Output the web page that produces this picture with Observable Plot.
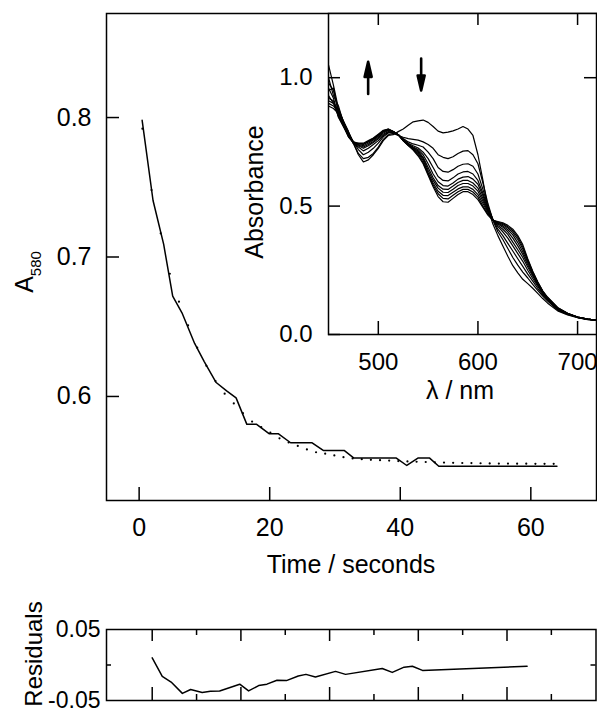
<!DOCTYPE html>
<html>
<head>
<meta charset="utf-8">
<script src="https://cdn.jsdelivr.net/npm/d3@7"></script>
<script src="https://cdn.jsdelivr.net/npm/@observablehq/plot@0.6"></script>
<style>
  html, body { margin: 0; padding: 0; background: white; }
  #wrap { position: relative; width: 597px; height: 716px; overflow: hidden; }
</style>
</head>
<body>
<div id="wrap"></div>
<script>
// ---------- Main kinetic trace (A580 vs time) ----------
const timeObs = [0.46, 2.13, 3.76, 5.14, 6.56, 8.5, 9.97, 11.8, 13.4, 14.85, 16.5, 18.0, 19.9, 21.3, 23.2, 26.5, 28.2, 31.4, 32.9, 39.4, 41.0, 42.7, 44.5, 45.9, 64.0];
const absObs  = [0.798, 0.7405, 0.709, 0.672, 0.660, 0.638, 0.625, 0.610, 0.604, 0.599, 0.580, 0.580, 0.5733, 0.5733, 0.5668, 0.5668, 0.5613, 0.5613, 0.5558, 0.5558, 0.5505, 0.5558, 0.5558, 0.550, 0.550];

const timeFit = [0.5, 1.9, 3.3, 4.7, 6.1, 7.5, 8.9, 10.3, 11.7, 13.1, 14.5, 15.9, 17.3, 18.7, 20.1, 21.5, 22.9, 24.3, 25.7, 27.1, 28.5, 29.9, 31.3, 32.7, 34.1, 35.5, 36.9, 38.3, 39.7, 41.1, 42.5, 43.9, 45.3, 46.7, 48.1, 49.5, 50.9, 52.3, 53.7, 55.1, 56.5, 57.9, 59.3, 60.7, 62.1, 63.5];
const absFit  = [0.792, 0.748, 0.717, 0.688, 0.668, 0.651, 0.635, 0.622, 0.611, 0.602, 0.595, 0.588, 0.582, 0.578, 0.574, 0.570, 0.567, 0.5645, 0.562, 0.560, 0.559, 0.5577, 0.5565, 0.5556, 0.5550, 0.5546, 0.5543, 0.5540, 0.5537, 0.5534, 0.5532, 0.5530, 0.5528, 0.5526, 0.5524, 0.5523, 0.5522, 0.5521, 0.5520, 0.5519, 0.5519, 0.5518, 0.5518, 0.5517, 0.5517, 0.5517];

const timeTicks = [0, 20, 40, 60];
const absTicks = [0.6, 0.7, 0.8];

// ---------- Residuals ----------
const resTime = [0, 1.7, 3.2, 5.1, 6.5, 8.45, 9.85, 11.4, 14.8, 16.3, 18.0, 19.4, 21.1, 22.7, 24.7, 26.0, 27.6, 31.0, 32.7, 38.9, 40.6, 42.6, 44.0, 45.7, 63.4];
const resVal  = [0.010, -0.016, -0.024, -0.040, -0.0345, -0.0386, -0.037, -0.0365, -0.027, -0.0365, -0.029, -0.027, -0.0215, -0.022, -0.0155, -0.0132, -0.017, -0.009, -0.0132, -0.0049, -0.0104, -0.003, -0.0017, -0.0076, -0.0017];
const resMajorTicks = [0, 15, 30, 45, 60];
const resMinorTicks = [7.5, 22.5, 37.5, 52.5, 67.5];
const resLabelTicks = [-0.05, 0.05];
const resMidTicks = [0];

// ---------- Inset spectra ----------
const wavelength = [450,455,460,465,470,475,480,485,490,495,500,505,510,515,520,525,530,535,540,545,550,555,560,565,570,575,580,585,590,595,600,605,610,615,620,625,630,635,640,645,650,655,660,665,670,680,690,700,710,720];
const spec1  = [1.05,0.97,0.88,0.83,0.79,0.745,0.70,0.672,0.68,0.70,0.725,0.755,0.775,0.778,0.79, 0.80,0.815,0.828,0.832,0.835,0.826,0.81,0.792,0.785, 0.788,0.793,0.80,0.81, 0.80,0.775,0.70,0.60,0.49,0.43, 0.385,0.345,0.305,0.268,0.24,0.215,0.198,0.18,0.16,0.14,0.122, 0.092,0.076,0.066,0.058,0.055];
const spec2  = [0.98,0.95,0.87,0.83,0.79,0.745,0.705,0.685,0.69,0.705,0.73,0.76,0.778,0.783,0.775, 0.768,0.763,0.76,0.757,0.75,0.74,0.725,0.70,0.69, 0.685,0.692,0.705,0.714, 0.716,0.70,0.665,0.59,0.51,0.445, 0.40,0.37,0.335,0.30,0.27,0.243,0.22,0.195,0.172,0.15,0.13, 0.095,0.078,0.066,0.059,0.055];
const spec3  = [1.00,0.93,0.89,0.825,0.785,0.75,0.72,0.70,0.71,0.725,0.745,0.77,0.785,0.785,0.778, 0.763,0.75,0.742,0.737,0.73,0.71,0.685,0.65,0.635, 0.632,0.642,0.655,0.663, 0.665,0.655,0.625,0.565,0.50,0.448, 0.41,0.385,0.355,0.325,0.295,0.265,0.235,0.208,0.18,0.155,0.133, 0.097,0.079,0.067,0.059,0.055];
const spec4  = [0.95,0.96,0.86,0.82,0.785,0.745,0.73,0.715,0.725,0.74,0.755,0.775,0.788,0.787,0.778, 0.76,0.745,0.735,0.726,0.71,0.685,0.65,0.615,0.60, 0.598,0.61,0.625,0.633, 0.635,0.625,0.60,0.55,0.495,0.448, 0.42,0.40,0.375,0.345,0.315,0.285,0.25,0.218,0.188,0.16,0.136, 0.099,0.08,0.067,0.06,0.055];
const spec5  = [0.93,0.90,0.875,0.83,0.78,0.75,0.735,0.725,0.735,0.748,0.762,0.78,0.79,0.788,0.778, 0.758,0.742,0.73,0.72,0.70,0.665,0.625,0.595,0.58, 0.578,0.59,0.605,0.613, 0.615,0.605,0.585,0.54,0.49,0.447, 0.425,0.41,0.39,0.36,0.33,0.30,0.263,0.227,0.193,0.163,0.138, 0.10,0.081,0.067,0.06,0.055];
const spec6  = [0.96,0.92,0.85,0.815,0.78,0.745,0.738,0.73,0.74,0.752,0.767,0.785,0.795,0.79,0.778, 0.757,0.74,0.727,0.715,0.69,0.65,0.61,0.58,0.566, 0.565,0.578,0.592,0.60, 0.60,0.59,0.57,0.53,0.485,0.446, 0.43,0.418,0.40,0.375,0.345,0.312,0.272,0.233,0.197,0.165,0.14, 0.101,0.081,0.068,0.06,0.055];
const spec7  = [0.90,0.89,0.865,0.82,0.775,0.75,0.74,0.735,0.745,0.757,0.772,0.79,0.797,0.79,0.778, 0.756,0.739,0.725,0.71,0.685,0.64,0.60,0.57,0.554, 0.553,0.566,0.58,0.588, 0.588,0.578,0.558,0.52,0.48,0.446, 0.433,0.423,0.408,0.388,0.358,0.322,0.28,0.238,0.20,0.167,0.141, 0.102,0.082,0.068,0.06,0.055];
const spec8  = [0.92,0.91,0.845,0.81,0.775,0.745,0.742,0.74,0.75,0.76,0.776,0.79,0.798,0.79,0.778, 0.755,0.738,0.722,0.705,0.678,0.63,0.59,0.558,0.542, 0.541,0.554,0.567,0.575, 0.575,0.565,0.545,0.51,0.475,0.445, 0.436,0.428,0.415,0.397,0.37,0.333,0.287,0.242,0.202,0.168,0.142, 0.103,0.082,0.068,0.06,0.055];
const spec9  = [0.89,0.88,0.86,0.815,0.77,0.75,0.744,0.742,0.752,0.763,0.778,0.793,0.80,0.79,0.778, 0.755,0.737,0.72,0.70,0.67,0.625,0.582,0.548,0.53, 0.528,0.542,0.556,0.565, 0.565,0.555,0.535,0.50,0.47,0.445, 0.438,0.432,0.42,0.404,0.378,0.342,0.29,0.244,0.203,0.168,0.143, 0.104,0.083,0.068,0.06,0.055];
const spec10 = [0.91,0.90,0.85,0.81,0.77,0.745,0.745,0.745,0.755,0.765,0.78,0.795,0.80,0.79,0.778, 0.754,0.736,0.718,0.695,0.665,0.62,0.575,0.537,0.517, 0.515,0.53,0.545,0.556, 0.556,0.545,0.525,0.495,0.465,0.445, 0.44,0.435,0.425,0.41,0.385,0.35,0.295,0.246,0.205,0.17,0.145, 0.105,0.083,0.068,0.06,0.055];
const spectra = [spec1, spec2, spec3, spec4, spec5, spec6, spec7, spec8, spec9, spec10];

const lambdaTicks = [500, 600, 700];
const insetAbsTicks = [0.0, 0.5, 1.0];
const insetRightTicks = [0.5, 1.0];

const arrowLambda = [489.8, 543];
const arrowTailAbs = [0.937, 1.075];
const arrowRotate = [0, 180];

// ---------- build tables ----------
const obsData = timeObs.map((t, i) => ({t, A: absObs[i]}));
const fitData = timeFit.map((t, i) => ({t, A: absFit[i]}));
const resData = resTime.map((t, i) => ({t, r: resVal[i]}));
const specData = spectra.flatMap((s, k) => wavelength.map((w, i) => ({w, A: s[i], k})));
const arrowData = arrowLambda.map((w, i) => ({w, A: arrowTailAbs[i], rot: arrowRotate[i]}));

const FONT = "'Liberation Sans', Arial, Helvetica, sans-serif";
const baseStyle = (fs) => ({position: "absolute", left: "0px", top: "0px", background: "transparent", fontFamily: FONT, fontSize: fs, color: "black", overflow: "visible"});

const wrap = document.getElementById("wrap");

// ---------- main plot ----------
const mX = [-5, 70.06], mY = [0.5254, 0.8746];
const mainSvg = Plot.plot({
  width: 597, height: 600,
  marginLeft: 106, marginRight: 1, marginTop: 13, marginBottom: 100,
  x: {domain: mX, axis: null}, y: {domain: mY, axis: null},
  style: baseStyle("25px"),
  marks: [
    Plot.ruleX(timeTicks, {x: d => d, y1: mY[0], y2: mY[0], insetTop: -13, stroke: "black", strokeWidth: 1.5}),
    Plot.ruleY(absTicks, {y: d => d, x1: mX[0], x2: mX[0], insetRight: -13, stroke: "black", strokeWidth: 1.5}),
    Plot.axisX(timeTicks, {tickSize: 0, tickPadding: 18, label: null, tickFormat: d => String(d)}),
    Plot.axisY(absTicks, {tickSize: 0, tickPadding: 15, label: null, tickFormat: d => d.toFixed(1)}),
    Plot.dot(fitData, {x: "t", y: "A", r: 1.1, fill: "black", stroke: null}),
    Plot.line(obsData, {x: "t", y: "A", stroke: "black", strokeWidth: 1.5}),
    Plot.frame({stroke: "black", strokeWidth: 1.5})
  ]
});
wrap.appendChild(mainSvg);
{
  const s = d3.select(mainSvg);
  const t = s.append("text").attr("transform", "translate(33,272) rotate(-90)")
    .attr("text-anchor", "middle").attr("font-size", 25).attr("fill", "black");
  t.append("tspan").text("A");
  t.append("tspan").attr("font-size", 15).attr("dy", 8).text("580");
  s.append("text").attr("x", 351).attr("y", 573).attr("text-anchor", "middle")
    .attr("font-size", 25).attr("fill", "black").text("Time / seconds");
}

// ---------- residual plot ----------
const rX = [-7.73, 75.05], rY = [-0.05, 0.05];
const resSvg = Plot.plot({
  width: 597, height: 716,
  marginLeft: 106, marginRight: 1.5, marginTop: 629, marginBottom: 16,
  x: {domain: rX, axis: null}, y: {domain: rY, axis: null},
  style: baseStyle("23px"),
  marks: [
    Plot.ruleX(resMajorTicks, {x: d => d, y1: rY[0], y2: rY[0], insetTop: -13, stroke: "black", strokeWidth: 1.5}),
    Plot.ruleX(resMinorTicks, {x: d => d, y1: rY[0], y2: rY[0], insetTop: -6, stroke: "black", strokeWidth: 1.5}),
    Plot.ruleX(resMajorTicks, {x: d => d, y1: rY[1], y2: rY[1], insetBottom: -12, stroke: "black", strokeWidth: 1.5}),
    Plot.ruleX(resMinorTicks, {x: d => d, y1: rY[1], y2: rY[1], insetBottom: -6, stroke: "black", strokeWidth: 1.5}),
    Plot.ruleY(resMidTicks, {y: d => d, x1: rX[0], x2: rX[0], insetRight: -5, stroke: "black", strokeWidth: 1.5}),
    Plot.ruleY(resMidTicks, {y: d => d, x1: rX[1], x2: rX[1], insetLeft: -5, stroke: "black", strokeWidth: 1.5}),
    Plot.axisY(resLabelTicks, {tickSize: 0, tickPadding: 6, label: null, tickFormat: d => d.toFixed(2)}),
    Plot.line(resData, {x: "t", y: "r", stroke: "black", strokeWidth: 1.5}),
    Plot.frame({stroke: "black", strokeWidth: 1.5})
  ]
});
wrap.appendChild(resSvg);
d3.select(resSvg).append("text").attr("transform", "translate(42,654) rotate(-90)")
  .attr("text-anchor", "middle").attr("font-size", 24).attr("fill", "black").text("Residuals");

// ---------- inset ----------
const iX = [450, 719], iY = [0, 1.25];
const arrowShape = {
  draw(context, l) {
    const h = 15, w = 3.5;
    context.moveTo(0, 0);
    context.lineTo(0, -l + h);
    context.moveTo(-w, -l + h);
    context.lineTo(0, -l);
    context.lineTo(w, -l + h);
    context.closePath();
  }
};
const insetSvg = Plot.plot({
  width: 597, height: 420,
  marginLeft: 328, marginRight: 1, marginTop: 13, marginBottom: 86,
  x: {domain: iX, axis: null}, y: {domain: iY, axis: null},
  style: baseStyle("24px"),
  marks: [
    Plot.frame({fill: "white", stroke: null}),
    Plot.line(specData, {x: "w", y: "A", z: "k", stroke: "black", strokeWidth: 1.2, clip: true}),
    Plot.ruleX(lambdaTicks, {x: d => d, y1: iY[0], y2: iY[0], insetTop: -13, stroke: "black", strokeWidth: 1.5}),
    Plot.ruleX(lambdaTicks, {x: d => d, y1: iY[1], y2: iY[1], insetBottom: -12, stroke: "black", strokeWidth: 1.5}),
    Plot.ruleY(insetAbsTicks, {y: d => d, x1: iX[0], x2: iX[0], insetRight: -12, stroke: "black", strokeWidth: 1.5}),
    Plot.ruleY(insetRightTicks, {y: d => d, x1: iX[1], x2: iX[1], insetLeft: -12, stroke: "black", strokeWidth: 1.5}),
    Plot.axisX(lambdaTicks, {tickSize: 0, tickPadding: 18, label: null, tickFormat: d => String(d)}),
    Plot.axisY(insetAbsTicks, {tickSize: 0, tickPadding: 16, label: null, tickFormat: d => d.toFixed(1)}),
    Plot.vector(arrowData, {x: "w", y: "A", rotate: "rot", length: 32, anchor: "start", shape: arrowShape,
      stroke: "black", fill: "black", strokeWidth: 2.6, strokeLinejoin: "round"}),
    Plot.frame({stroke: "black", strokeWidth: 1.5})
  ]
});
wrap.appendChild(insetSvg);
{
  const s = d3.select(insetSvg);
  s.append("text").attr("transform", "translate(263,192) rotate(-90)")
    .attr("text-anchor", "middle").attr("font-size", 25).attr("fill", "black").text("Absorbance");
  s.append("text").attr("x", 460).attr("y", 399).attr("text-anchor", "middle")
    .attr("font-size", 25).attr("fill", "black").text("λ / nm");
}
</script>
</body>
</html>
